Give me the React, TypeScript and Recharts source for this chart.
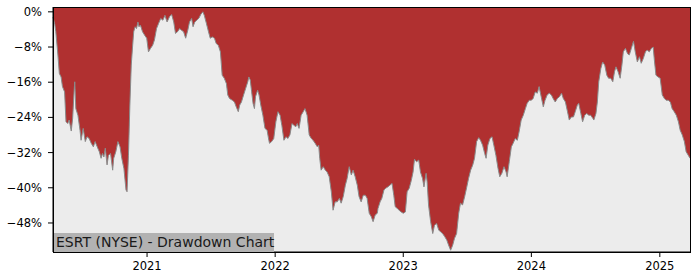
import { AreaChart, Area, XAxis, YAxis, CartesianGrid } from 'recharts'

const title = 'ESRT (NYSE) - Drawdown Chart'
const yearTicks = [2021, 2022, 2023, 2024, 2025]
const pctTicks = [0, -8, -16, -24, -32, -40, -48]

// roughly every 5-6 days
const dates = [
  '2020-04-08', '2020-04-13', '2020-04-16', '2020-04-22', '2020-04-26', '2020-05-01', '2020-05-05', '2020-05-11',
  '2020-05-15', '2020-05-20', '2020-05-24', '2020-05-30', '2020-06-03', '2020-06-07', '2020-06-09', '2020-06-12',
  '2020-06-18', '2020-06-24', '2020-06-27', '2020-07-03', '2020-07-09', '2020-07-14', '2020-07-20', '2020-07-26',
  '2020-08-01', '2020-08-06', '2020-08-12', '2020-08-18', '2020-08-23', '2020-08-27', '2020-08-31', '2020-09-04',
  '2020-09-09', '2020-09-13', '2020-09-19', '2020-09-25', '2020-09-28', '2020-10-04', '2020-10-10', '2020-10-16',
  '2020-10-21', '2020-10-27', '2020-11-02', '2020-11-05', '2020-11-09', '2020-11-13', '2020-11-17', '2020-11-21',
  '2020-11-24', '2020-11-28', '2020-12-02', '2020-12-06', '2020-12-09', '2020-12-13', '2020-12-19', '2020-12-25',
  '2020-12-31', '2021-01-05', '2021-01-11', '2021-01-17', '2021-01-22', '2021-01-28', '2021-02-03', '2021-02-09',
  '2021-02-15', '2021-02-21', '2021-02-27', '2021-03-06', '2021-03-12', '2021-03-18', '2021-03-23', '2021-03-29',
  '2021-04-04', '2021-04-09', '2021-04-15', '2021-04-21', '2021-04-27', '2021-05-02', '2021-05-08', '2021-05-12',
  '2021-05-17', '2021-05-23', '2021-05-29', '2021-06-03', '2021-06-09', '2021-06-13', '2021-06-19', '2021-06-25',
  '2021-06-30', '2021-07-06', '2021-07-12', '2021-07-17', '2021-07-23', '2021-07-29', '2021-08-03', '2021-08-09',
  '2021-08-15', '2021-08-19', '2021-08-24', '2021-09-01', '2021-09-07', '2021-09-12', '2021-09-18', '2021-09-22',
  '2021-09-27', '2021-10-03', '2021-10-09', '2021-10-15', '2021-10-18', '2021-10-22', '2021-10-26', '2021-10-30',
  '2021-11-03', '2021-11-06', '2021-11-12', '2021-11-16', '2021-11-21', '2021-11-27', '2021-12-03', '2021-12-09',
  '2021-12-14', '2021-12-16', '2021-12-22', '2021-12-28', '2022-01-03', '2022-01-09', '2022-01-15', '2022-01-20',
  '2022-01-26', '2022-02-01', '2022-02-06', '2022-02-12', '2022-02-18', '2022-02-23', '2022-03-01', '2022-03-05',
  '2022-03-10', '2022-03-16', '2022-03-22', '2022-03-27', '2022-04-02', '2022-04-08', '2022-04-14', '2022-04-19',
  '2022-04-25', '2022-05-01', '2022-05-05', '2022-05-08', '2022-05-12', '2022-05-18', '2022-05-24', '2022-05-29',
  '2022-06-04', '2022-06-10', '2022-06-15', '2022-06-21', '2022-06-27', '2022-07-03', '2022-07-08', '2022-07-14',
  '2022-07-20', '2022-07-25', '2022-07-31', '2022-08-06', '2022-08-11', '2022-08-17', '2022-08-23', '2022-08-28',
  '2022-09-03', '2022-09-09', '2022-09-15', '2022-09-20', '2022-09-26', '2022-10-02', '2022-10-07', '2022-10-13',
  '2022-10-19', '2022-10-21', '2022-10-27', '2022-11-01', '2022-11-07', '2022-11-12', '2022-11-18', '2022-11-24',
  '2022-11-30', '2022-12-05', '2022-12-09', '2022-12-15', '2022-12-20', '2022-12-26', '2023-01-01', '2023-01-07',
  '2023-01-12', '2023-01-18', '2023-01-24', '2023-01-29', '2023-02-02', '2023-02-08', '2023-02-14', '2023-02-19',
  '2023-02-25', '2023-03-01', '2023-03-07', '2023-03-10', '2023-03-14', '2023-03-20', '2023-03-26', '2023-03-31',
  '2023-04-06', '2023-04-12', '2023-04-17', '2023-04-23', '2023-04-29', '2023-05-05', '2023-05-10', '2023-05-16',
  '2023-05-22', '2023-05-27', '2023-06-02', '2023-06-08', '2023-06-13', '2023-06-19', '2023-06-25', '2023-07-01',
  '2023-07-06', '2023-07-12', '2023-07-18', '2023-07-23', '2023-07-29', '2023-08-04', '2023-08-09', '2023-08-15',
  '2023-08-21', '2023-08-25', '2023-08-30', '2023-09-05', '2023-09-11', '2023-09-16', '2023-09-22', '2023-09-28',
  '2023-10-03', '2023-10-09', '2023-10-15', '2023-10-21', '2023-10-24', '2023-10-30', '2023-11-05', '2023-11-10',
  '2023-11-16', '2023-11-22', '2023-11-27', '2023-12-03', '2023-12-09', '2023-12-15', '2023-12-20', '2023-12-26',
  '2024-01-01', '2024-01-06', '2024-01-12', '2024-01-18', '2024-01-23', '2024-01-29', '2024-02-04', '2024-02-09',
  '2024-02-15', '2024-02-21', '2024-02-27', '2024-03-03', '2024-03-09', '2024-03-15', '2024-03-21', '2024-03-27',
  '2024-04-01', '2024-04-07', '2024-04-13', '2024-04-18', '2024-04-24', '2024-04-30', '2024-05-05', '2024-05-11',
  '2024-05-15', '2024-05-21', '2024-05-26', '2024-06-01', '2024-06-07', '2024-06-12', '2024-06-18', '2024-06-24',
  '2024-06-27', '2024-07-03', '2024-07-07', '2024-07-11', '2024-07-17', '2024-07-22', '2024-07-28', '2024-08-03',
  '2024-08-08', '2024-08-14', '2024-08-20', '2024-08-25', '2024-08-29', '2024-09-04', '2024-09-10', '2024-09-15',
  '2024-09-19', '2024-09-25', '2024-10-01', '2024-10-06', '2024-10-12', '2024-10-18', '2024-10-23', '2024-10-29',
  '2024-11-04', '2024-11-09', '2024-11-15', '2024-11-21', '2024-11-26', '2024-12-02', '2024-12-08', '2024-12-13',
  '2024-12-17', '2024-12-21', '2024-12-27', '2025-01-02', '2025-01-08', '2025-01-14', '2025-01-19', '2025-01-25',
  '2025-01-31', '2025-02-05', '2025-02-11', '2025-02-17', '2025-02-23', '2025-02-28', '2025-03-06', '2025-03-12',
  '2025-03-17', '2025-03-23', '2025-03-28',
]

// drawdown from running peak, %
const drawdown = [
  -1.2, -2.8, -4.5, -9.8, -14.0, -14.8, -17.0, -18.2,
  -25.0, -25.4, -24.6, -27.1, -24.2, -18.2, -15.9, -22.0,
  -23.5, -26.9, -29.2, -26.5, -29.5, -28.4, -28.8, -29.9,
  -30.7, -29.5, -30.7, -31.8, -33.3, -32.2, -33.0, -31.0,
  -34.8, -32.6, -32.2, -36.0, -33.3, -31.8, -29.5, -30.7,
  -33.3, -35.6, -40.5, -40.9, -32.6, -21.2, -12.1, -7.6,
  -4.5, -3.4, -3.8, -2.3, -3.4, -3.0, -4.5, -5.3,
  -6.0, -9.1, -8.3, -7.6, -6.4, -3.8, -2.6, -1.5,
  -1.9, -0.8, -2.3, -1.1, -0.6, -2.3, -4.9, -4.5,
  -3.8, -4.2, -4.5, -6.0, -4.2, -2.3, -1.5, -3.4,
  -2.3, -1.9, -1.4, -0.6, 0, -0.8, -2.6, -4.5,
  -6.0, -5.7, -6.0, -7.2, -7.6, -9.1, -14.4, -15.1,
  -16.3, -18.9, -19.7, -20.1, -20.5, -21.6, -22.7, -21.2,
  -20.5, -18.9, -17.4, -15.9, -14.8, -15.5, -18.2, -20.8,
  -22.0, -19.3, -17.8, -18.9, -21.2, -23.5, -26.5, -26.9,
  -29.2, -29.9, -29.5, -28.8, -25.0, -22.7, -23.5, -25.8,
  -29.2, -28.4, -28.8, -28.0, -25.4, -25.8, -26.1, -25.4,
  -26.5, -23.5, -22.7, -22.0, -23.5, -28.0, -28.8, -29.2,
  -29.9, -30.7, -30.3, -33.3, -36.0, -35.2, -36.0, -36.4,
  -37.5, -40.9, -45.1, -43.2, -43.2, -42.4, -43.5, -42.0,
  -39.4, -37.9, -35.2, -37.1, -36.0, -37.5, -39.4, -42.0,
  -43.2, -41.7, -41.7, -42.4, -45.8, -46.6, -47.7, -46.2,
  -45.8, -44.7, -43.2, -42.4, -40.5, -40.1, -39.8, -39.4,
  -39.0, -41.7, -44.3, -44.7, -45.1, -45.5, -45.8, -45.5,
  -40.9, -40.1, -38.3, -36.4, -33.5, -34.1, -33.7, -36.4,
  -37.9, -39.8, -36.7, -38.6, -43.9, -47.7, -50.4, -48.5,
  -48.1, -49.6, -50.0, -50.4, -51.1, -51.9, -53.0, -54.2,
  -53.0, -51.5, -50.4, -45.8, -43.5, -43.9, -42.0, -39.8,
  -37.9, -36.0, -34.8, -33.3, -29.5, -28.6, -29.2, -30.3,
  -32.2, -33.3, -30.3, -28.8, -28.4, -30.3, -32.6, -35.6,
  -37.5, -36.7, -35.2, -36.4, -37.5, -34.1, -30.7, -29.9,
  -28.8, -29.2, -27.3, -24.6, -23.5, -22.0, -20.8, -20.1,
  -20.1, -19.7, -18.2, -18.5, -17.0, -19.3, -21.6, -20.1,
  -18.9, -18.5, -18.9, -19.7, -20.5, -19.7, -19.3, -18.5,
  -19.7, -20.5, -22.7, -24.6, -23.9, -23.9, -22.7, -21.2,
  -20.8, -23.1, -25.0, -23.5, -23.1, -23.5, -23.5, -24.2,
  -24.6, -23.1, -20.5, -15.9, -12.9, -11.4, -12.1, -14.4,
  -15.1, -15.1, -15.9, -13.6, -12.5, -13.6, -15.1, -12.1,
  -9.1, -8.3, -9.5, -9.8, -8.3, -6.7, -9.1, -11.4,
  -10.2, -11.7, -10.6, -9.1, -8.7, -9.1, -8.3, -8.0,
  -11.4, -14.4, -14.8, -15.1, -18.9, -19.7, -20.1, -20.1,
  -20.5, -22.0, -22.7, -23.5, -25.0, -26.9, -28.0, -29.5,
  -31.8, -32.6, -33.3,
]

const data = dates.map((d, i) => ({ ts: Date.parse(d), dd: drawdown[i] }))

const font = '"DejaVu Sans", sans-serif'
const tickStyle = { fill: '#000', fontSize: 11.5, fontFamily: font }

const fmtPct = (v: number) => (v === 0 ? '0%' : `\u2212${Math.abs(v)}%`)

export default function App() {
  return (
    <div style={{ position: 'absolute', left: 0, top: 0, width: 700, height: 280, background: '#fff' }}>
      <AreaChart width={700} height={280} data={data} margin={{ top: 7, right: 10, bottom: 0, left: 0 }}>
        <CartesianGrid horizontal={false} vertical={false} fill="#b03030" fillOpacity={1} />
        <XAxis
          dataKey="ts"
          type="number"
          scale="time"
          domain={['dataMin', 'dataMax']}
          ticks={yearTicks.map((y) => Date.UTC(y, 0, 1))}
          tickFormatter={(v: number) => String(new Date(v).getUTCFullYear())}
          height={28}
          tickSize={5}
          tickMargin={5}
          stroke="#000"
          tick={tickStyle}
        />
        <YAxis
          domain={[-54.6, 1.1]}
          ticks={pctTicks}
          allowDataOverflow
          tickFormatter={fmtPct}
          width={53}
          tickSize={5}
          tickMargin={6}
          stroke="#000"
          tick={tickStyle}
        />
        <Area
          type="linear"
          dataKey="dd"
          baseValue="dataMin"
          fill="#ececec"
          fillOpacity={1}
          stroke="#8a8a8a"
          strokeWidth={1}
          dot={false}
          activeDot={false}
          isAnimationActive={false}
        />
      </AreaChart>
      <div
        style={{
          position: 'absolute', left: 53, top: 233, width: 221, height: 19,
          boxSizing: 'border-box', paddingLeft: 3, background: '#b2b2b2',
          color: '#1a1a1a', fontFamily: font, fontSize: 14, lineHeight: '19px', whiteSpace: 'nowrap',
        }}
      >
        {title}
      </div>
      {/* frame round the plot, like matplotlib spines */}
      <div
        style={{
          position: 'absolute', left: 53, top: 7, width: 638, height: 246,
          boxSizing: 'border-box', border: '1px solid #000', pointerEvents: 'none',
        }}
      />
    </div>
  )
}
